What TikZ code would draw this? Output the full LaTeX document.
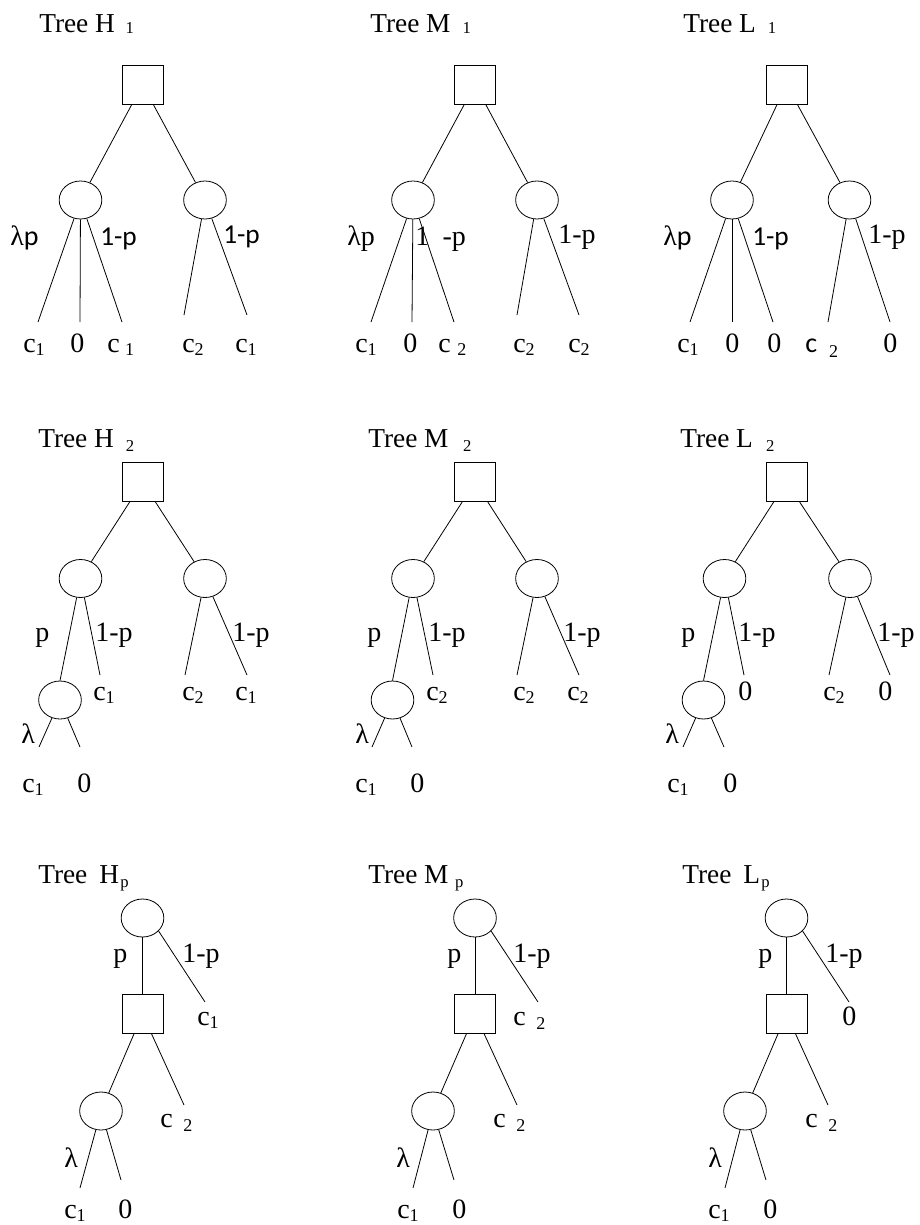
\documentclass[tikz,border=0pt]{standalone}
\usepackage{fontspec}
\setmainfont{Liberation Serif}
\newfontfamily\carl{Carlito}
\usetikzlibrary{shapes.geometric}
\newcommand\lowix[2][-2.5pt]{\raisebox{#1}{\fontsize{13.5}{13.5}\selectfont #2}}
\newcommand\ttlsub[2][-1pt]{\raisebox{#1}{\fontsize{12.5}{12.5}\selectfont #2}}
\begin{document}
\begin{tikzpicture}[x=0.75pt,y=-0.75pt,
  sqbox/.style={draw, rectangle, minimum width=30.75pt, minimum height=29.25pt, inner sep=0pt, line width=0.6pt},
  chance/.style={draw, ellipse, minimum width=32pt, minimum height=28.5pt, inner sep=0pt, line width=0.6pt},
  ln/.style={line width=0.6pt},
  ttl/.style={anchor=base west, inner sep=0pt, font=\fontsize{20.5}{24}\selectfont},
  lab/.style={anchor=base west, inner sep=0pt, font=\fontsize{21}{25}\selectfont},
  slab/.style={anchor=base west, inner sep=0pt, font=\carl\fontsize{20.5}{24}\selectfont}]
\path[use as bounding box, fill=white] (0,0) rectangle (920,1225);

% ================= Tree H1 =================
\node[ttl] (tH1) at (39,32) {Tree H\hspace{8pt}\ttlsub{1}};
\node[sqbox] (H1s) at (142.5,84.5) {};
\node[chance] (H1a) at (80.5,200) {};
\node[chance] (H1b) at (205,200) {};
\draw[ln] (H1s) -- (H1a);
\draw[ln] (H1s) -- (H1b);
\coordinate (H1a1) at (38,322);
\coordinate (H1a2) at (80,322);
\coordinate (H1a3) at (122,322);
\coordinate (H1b1) at (184,315);
\coordinate (H1b2) at (247,315);
\draw[ln] (H1a) -- (H1a1);
\draw[ln] (H1a) -- (H1a2);
\draw[ln] (H1a) -- (H1a3);
\draw[ln] (H1b) -- (H1b1);
\draw[ln] (H1b) -- (H1b2);
\node[lab] (H1l1) at (10,245) {λ{\carl p}};
\node[slab] (H1l2) at (100,245) {1-p};
\node[slab] (H1l3) at (223,243) {1-p};
\node[lab] (H1v1) at (23,352) {c\lowix{1}};
\node[lab] (H1v2) at (70,352) {0};
\node[lab] (H1v3) at (107,352) {c\hspace{4pt}\lowix{1}};
\node[lab] (H1v4) at (182,352) {c\lowix{2}};
\node[lab] (H1v5) at (235,352) {c\lowix{1}};

% ================= Tree M1 =================
\node[ttl] (tM1) at (370,32) {Tree M\hspace{9pt}\ttlsub{1}};
\node[sqbox] (M1s) at (475,84.5) {};
\node[chance] (M1a) at (413,200) {};
\node[chance] (M1b) at (537,200) {};
\draw[ln] (M1s) -- (M1a);
\draw[ln] (M1s) -- (M1b);
\coordinate (M1a1) at (371,322);
\coordinate (M1a2) at (412,322);
\coordinate (M1a3) at (454,322);
\coordinate (M1b1) at (517,315);
\coordinate (M1b2) at (579,315);
\draw[ln] (M1a) -- (M1a1);
\draw[ln] (M1a) -- (M1a2);
\draw[ln] (M1a) -- (M1a3);
\draw[ln] (M1b) -- (M1b1);
\draw[ln] (M1b) -- (M1b2);
\node[lab] (M1l1) at (347,245) {λp};
\node[lab] (M1l2) at (415,245) {1\hspace{10pt}-p};
\node[lab] (M1l3) at (558,243) {1-p};
\node[lab] (M1v1) at (355,352) {c\lowix{1}};
\node[lab] (M1v2) at (403,352) {0};
\node[lab] (M1v3) at (438,352) {c\hspace{5pt}\lowix{2}};
\node[lab] (M1v4) at (513,352) {c\lowix{2}};
\node[lab] (M1v5) at (568,352) {c\lowix{2}};

% ================= Tree L1 =================
\node[ttl] (tL1) at (683,32) {Tree L\hspace{9pt}\ttlsub{1}};
\node[sqbox] (L1s) at (786.5,84.5) {};
\node[chance] (L1a) at (732,200) {};
\node[chance] (L1b) at (849.5,200) {};
\draw[ln] (L1s) -- (L1a);
\draw[ln] (L1s) -- (L1b);
\coordinate (L1a1) at (690,322);
\coordinate (L1a2) at (732,322);
\coordinate (L1a3) at (773,322);
\coordinate (L1b1) at (828,322);
\coordinate (L1b2) at (890,322);
\draw[ln] (L1a) -- (L1a1);
\draw[ln] (L1a) -- (L1a2);
\draw[ln] (L1a) -- (L1a3);
\draw[ln] (L1b) -- (L1b1);
\draw[ln] (L1b) -- (L1b2);
\node[lab] (L1l1) at (663,245) {λ{\carl p}};
\node[slab] (L1l2) at (752,245) {1-p};
\node[lab] (L1l3) at (868,243) {1-p};
\node[lab] (L1v1) at (677,352) {c\lowix{1}};
\node[lab] (L1v2) at (725,352) {0};
\node[lab] (L1v3) at (767,352) {0};
\node[lab] (L1v4) at (805,352) {{\carl c}\hspace{9pt}\lowix[-4pt]{2}};
\node[lab] (L1v5) at (883,352) {0};

% ================= Tree H2 =================
\node[ttl] (tH2) at (38,447) {Tree H\hspace{9pt}\ttlsub[-3.5pt]{2}};
\node[sqbox] (H2s) at (142.5,482) {};
\node[chance] (H2a) at (80.5,578.5) {};
\node[chance] (H2b) at (205,578.5) {};
\node[chance] (H2c) at (60,700) {};
\draw[ln] (H2s) -- (H2a);
\draw[ln] (H2s) -- (H2b);
\draw[ln] (H2a) -- (H2c.north);
\coordinate (H2a2) at (100,675);
\coordinate (H2b1) at (185,675);
\coordinate (H2b2) at (247,675);
\coordinate (H2c1) at (39,747);
\coordinate (H2c2) at (80,747);
\draw[ln] (H2a) -- (H2a2);
\draw[ln] (H2b) -- (H2b1);
\draw[ln] (H2b) -- (H2b2);
\draw[ln] (H2c) -- (H2c1);
\draw[ln] (H2c) -- (H2c2);
\node[lab] (H2l1) at (35,641) {p};
\node[lab] (H2l2) at (95,641) {1-p};
\node[lab] (H2l3) at (232,641) {1-p};
\node[lab] (H2l4) at (21,743) {λ};
\node[lab] (H2v1) at (93,700) {c\lowix{1}};
\node[lab] (H2v2) at (182,700) {c\lowix{2}};
\node[lab] (H2v3) at (235,700) {c\lowix{1}};
\node[lab] (H2v4) at (22,792) {c\lowix{1}};
\node[lab] (H2v5) at (77,792) {0};

% ================= Tree M2 =================
\node[ttl] (tM2) at (368,447) {Tree M\hspace{11pt}\ttlsub[-3.5pt]{2}};
\node[sqbox] (M2s) at (475,482) {};
\node[chance] (M2a) at (413,578.5) {};
\node[chance] (M2b) at (537,578.5) {};
\node[chance] (M2c) at (392.5,700) {};
\draw[ln] (M2s) -- (M2a);
\draw[ln] (M2s) -- (M2b);
\draw[ln] (M2a) -- (M2c.north);
\coordinate (M2a2) at (433,675);
\coordinate (M2b1) at (517,675);
\coordinate (M2b2) at (579,675);
\coordinate (M2c1) at (372,747);
\coordinate (M2c2) at (412,747);
\draw[ln] (M2a) -- (M2a2);
\draw[ln] (M2b) -- (M2b1);
\draw[ln] (M2b) -- (M2b2);
\draw[ln] (M2c) -- (M2c1);
\draw[ln] (M2c) -- (M2c2);
\node[lab] (M2l1) at (367,641) {p};
\node[lab] (M2l2) at (428,641) {1-p};
\node[lab] (M2l3) at (563,641) {1-p};
\node[lab] (M2l4) at (355,743) {λ};
\node[lab] (M2v1) at (426,700) {c\lowix{2}};
\node[lab] (M2v2) at (513,700) {c\lowix{2}};
\node[lab] (M2v3) at (567,700) {c\lowix{2}};
\node[lab] (M2v4) at (355,792) {c\lowix{1}};
\node[lab] (M2v5) at (410,792) {0};

% ================= Tree L2 =================
\node[ttl] (tL2) at (680,447) {Tree L\hspace{10pt}\ttlsub[-3.5pt]{2}};
\node[sqbox] (L2s) at (786.5,482) {};
\node[chance] (L2a) at (724.5,578.5) {};
\node[chance] (L2b) at (850,578.5) {};
\node[chance] (L2c) at (703.5,700) {};
\draw[ln] (L2s) -- (L2a);
\draw[ln] (L2s) -- (L2b);
\draw[ln] (L2a) -- (L2c.north);
\coordinate (L2a2) at (744,675);
\coordinate (L2b1) at (829,675);
\coordinate (L2b2) at (890,675);
\coordinate (L2c1) at (683,747);
\coordinate (L2c2) at (724,747);
\draw[ln] (L2a) -- (L2a2);
\draw[ln] (L2b) -- (L2b1);
\draw[ln] (L2b) -- (L2b2);
\draw[ln] (L2c) -- (L2c1);
\draw[ln] (L2c) -- (L2c2);
\node[lab] (L2l1) at (681,641) {p};
\node[lab] (L2l2) at (738,641) {1-p};
\node[lab] (L2l3) at (877,641) {1-p};
\node[lab] (L2l4) at (665,743) {λ};
\node[lab] (L2v1) at (738,700) {0};
\node[lab] (L2v2) at (823,700) {c\lowix{2}};
\node[lab] (L2v3) at (878,700) {0};
\node[lab] (L2v4) at (667,792) {c\lowix{1}};
\node[lab] (L2v5) at (723,792) {0};

% ================= Tree Hp =================
\node[ttl] (tHp) at (38,883) {Tree\hspace{9pt}H\hspace{1pt}\ttlsub[-3pt]{p}};
\node[chance] (Hpt) at (142.5,918) {};
\node[sqbox] (Hps) at (142.5,1014) {};
\node[chance] (Hpc) at (101,1111) {};
\coordinate (Hpr) at (205,1002);
\coordinate (Hpd) at (184,1105);
\coordinate (Hpc1) at (80,1188);
\coordinate (Hpc2) at (121,1180);
\draw[ln] (Hpt) -- (Hps);
\draw[ln] (Hpt.-39) -- (Hpr);
\draw[ln] (Hps) -- (Hpc);
\draw[ln] (Hps) -- (Hpd);
\draw[ln] (Hpc) -- (Hpc1);
\draw[ln] (Hpc) -- (Hpc2);
\node[lab] (Hpl1) at (113,962) {p};
\node[lab] (Hpl2) at (182,962) {1-p};
\node[lab] (Hpv1) at (197,1025) {c\lowix{1}};
\node[lab] (Hpv2) at (160,1127) {c\hspace{8pt}\lowix[-3.5pt]{2}};
\node[lab] (Hpl3) at (64,1167) {λ};
\node[lab] (Hpv3) at (64,1218) {c\lowix{1}};
\node[lab] (Hpv4) at (118,1218) {0};

% ================= Tree Mp =================
\node[ttl] (tMp) at (368,883) {Tree M\hspace{5pt}\ttlsub[-3pt]{p}};
\node[chance] (Mpt) at (475,918) {};
\node[sqbox] (Mps) at (475,1014) {};
\node[chance] (Mpc) at (433,1111) {};
\coordinate (Mpr) at (538,1002);
\coordinate (Mpd) at (517,1105);
\coordinate (Mpc1) at (413,1188);
\coordinate (Mpc2) at (454,1180);
\draw[ln] (Mpt) -- (Mps);
\draw[ln] (Mpt.-39) -- (Mpr);
\draw[ln] (Mps) -- (Mpc);
\draw[ln] (Mps) -- (Mpd);
\draw[ln] (Mpc) -- (Mpc1);
\draw[ln] (Mpc) -- (Mpc2);
\node[lab] (Mpl1) at (447,962) {p};
\node[lab] (Mpl2) at (513,962) {1-p};
\node[lab] (Mpv1) at (513,1025) {c\hspace{8pt}\lowix[-3.5pt]{2}};
\node[lab] (Mpv2) at (493,1127) {c\hspace{8pt}\lowix[-3.5pt]{2}};
\node[lab] (Mpl3) at (396,1167) {λ};
\node[lab] (Mpv3) at (397,1218) {c\lowix{1}};
\node[lab] (Mpv4) at (452,1218) {0};

% ================= Tree Lp =================
\node[ttl] (tLp) at (682,883) {Tree\hspace{9pt}L\hspace{1pt}\ttlsub[-3pt]{p}};
\node[chance] (Lpt) at (786.5,918) {};
\node[sqbox] (Lps) at (786.5,1014) {};
\node[chance] (Lpc) at (745,1111) {};
\coordinate (Lpr) at (849,1002);
\coordinate (Lpd) at (828,1105);
\coordinate (Lpc1) at (725,1188);
\coordinate (Lpc2) at (766,1180);
\draw[ln] (Lpt) -- (Lps);
\draw[ln] (Lpt.-39) -- (Lpr);
\draw[ln] (Lps) -- (Lpc);
\draw[ln] (Lps) -- (Lpd);
\draw[ln] (Lpc) -- (Lpc1);
\draw[ln] (Lpc) -- (Lpc2);
\node[lab] (Lpl1) at (758,962) {p};
\node[lab] (Lpl2) at (825,962) {1-p};
\node[lab] (Lpv1) at (842,1025) {0};
\node[lab] (Lpv2) at (805,1127) {c\hspace{8pt}\lowix[-3.5pt]{2}};
\node[lab] (Lpl3) at (708,1167) {λ};
\node[lab] (Lpv3) at (708,1218) {c\lowix{1}};
\node[lab] (Lpv4) at (763,1218) {0};
\end{tikzpicture}
\end{document}
